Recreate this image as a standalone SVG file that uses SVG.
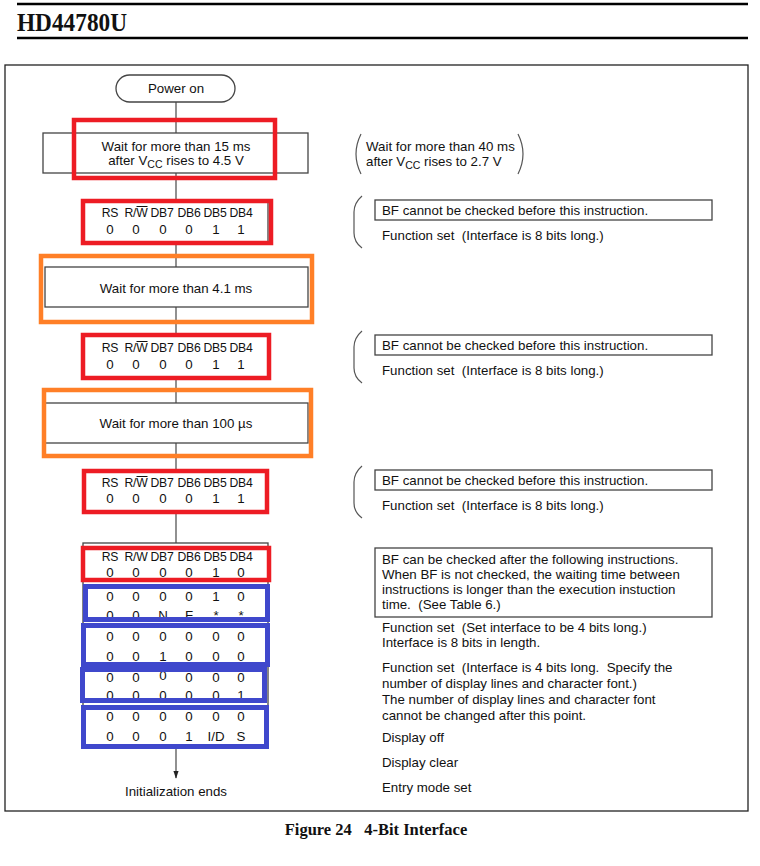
<svg xmlns="http://www.w3.org/2000/svg" width="760" height="866" viewBox="0 0 760 866">
<defs>
<style>
text{font-family:"Liberation Sans",Arial,sans-serif;font-size:13.3px;fill:#111;white-space:pre}
.c{text-anchor:middle}
.h{font-size:12.2px;letter-spacing:-0.3px}
.box{fill:#fff;stroke:#444;stroke-width:1.3}
.nb{fill:none;stroke:#444;stroke-width:1.3}
.red{fill:none;stroke:#ED1C24;stroke-width:4.5}
.org{fill:none;stroke:#FF7F27;stroke-width:4.5}
.blu{fill:none;stroke:#3F48CC;stroke-width:5}
.br{fill:none;stroke:#555;stroke-width:1.2}
.ln{stroke:#555;stroke-width:1.3;fill:none}
.ov{stroke:#111;stroke-width:1}
</style>
<marker id="arr" markerWidth="8" markerHeight="12" refX="11" refY="4" orient="auto" markerUnits="userSpaceOnUse" viewBox="0 0 12 8">
<path d="M0,0 L12,4 L0,8 Z" fill="#222"/>
</marker>
</defs>
<rect width="760" height="866" fill="#fff"/>
<g id="header">
<line x1="17" y1="4" x2="748" y2="4" stroke="#000" stroke-width="2.5"/>
<text x="17" y="31" style="font-family:'Liberation Serif','Times New Roman',serif;font-size:26px;font-weight:bold" textLength="110" lengthAdjust="spacingAndGlyphs">HD44780U</text>
<line x1="17" y1="38" x2="748" y2="38" stroke="#000" stroke-width="2.5"/>
</g>
<rect id="frame" x="5" y="65" width="743" height="746" fill="none" stroke="#222" stroke-width="1.3"/>
<g id="connectors">
<line class="ln" x1="176" y1="102" x2="176" y2="749"/>
<line class="ln" x1="176" y1="749" x2="176" y2="778" marker-end="url(#arr)"/>
</g>
<g id="power-on">
<rect x="116" y="75" width="119" height="27" rx="13.5" class="box"/>
<text x="176" y="93" class="c">Power on</text>
</g>
<g id="wait-15ms">
<rect x="43" y="133" width="265" height="40" class="box"/>
<text x="176" y="151" class="c">Wait for more than 15 ms</text>
<text x="176" y="165" class="c">after V<tspan dy="3" style="font-size:10.5px">CC</tspan><tspan dy="-3"> rises to 4.5 V</tspan></text>
<rect x="74" y="120" width="201" height="58" class="red"/>
</g>
<g id="fs1">
<rect x="84" y="201" width="184" height="41" class="box"/>
<text x="110" y="217" class="c h">RS</text><text x="136" y="217" class="c h">R/W</text><text x="162" y="217" class="c h">DB7</text><text x="189" y="217" class="c h">DB6</text><text x="215" y="217" class="c h">DB5</text><text x="241" y="217" class="c h">DB4</text>
<text x="110" y="234" class="c">0</text><text x="136" y="234" class="c">0</text><text x="163" y="234" class="c">0</text><text x="189" y="234" class="c">0</text><text x="216" y="234" class="c">1</text><text x="241" y="234" class="c">1</text>
<line x1="136.5" y1="206.5" x2="147.5" y2="206.5" class="ov"/>
<rect x="83" y="201" width="188" height="42" class="red"/>
</g>
<g id="wait-4ms">
<rect x="45" y="267" width="263" height="40" class="box"/>
<text x="176" y="293" class="c">Wait for more than 4.1 ms</text>
<rect x="41" y="256" width="271" height="66" class="org"/>
</g>
<g id="fs2">
<rect x="84" y="336" width="184" height="42" class="box"/>
<text x="110" y="352" class="c h">RS</text><text x="136" y="352" class="c h">R/W</text><text x="162" y="352" class="c h">DB7</text><text x="189" y="352" class="c h">DB6</text><text x="215" y="352" class="c h">DB5</text><text x="241" y="352" class="c h">DB4</text>
<text x="110" y="369" class="c">0</text><text x="136" y="369" class="c">0</text><text x="163" y="369" class="c">0</text><text x="189" y="369" class="c">0</text><text x="216" y="369" class="c">1</text><text x="241" y="369" class="c">1</text>
<line x1="136.5" y1="341.5" x2="147.5" y2="341.5" class="ov"/>
<rect x="83" y="335" width="186" height="43" class="red"/>
</g>
<g id="wait-100us">
<rect x="45" y="403" width="263" height="40" class="box"/>
<text x="176" y="428" class="c">Wait for more than 100 µs</text>
<rect x="44" y="390" width="267" height="66" class="org"/>
</g>
<g id="fs3">
<rect x="84" y="471" width="184" height="41" class="box"/>
<text x="110" y="487" class="c h">RS</text><text x="136" y="487" class="c h">R/W</text><text x="162" y="487" class="c h">DB7</text><text x="189" y="487" class="c h">DB6</text><text x="215" y="487" class="c h">DB5</text><text x="241" y="487" class="c h">DB4</text>
<text x="110" y="503" class="c">0</text><text x="136" y="503" class="c">0</text><text x="163" y="503" class="c">0</text><text x="189" y="503" class="c">0</text><text x="216" y="503" class="c">1</text><text x="241" y="503" class="c">1</text>
<line x1="136.5" y1="476.5" x2="147.5" y2="476.5" class="ov"/>
<rect x="84" y="471" width="183" height="41" class="red"/>
</g>
<g id="sequence">
<rect x="83" y="543" width="185" height="204" class="box"/>
<text x="110" y="561" class="c h">RS</text><text x="136" y="561" class="c h">R/W</text><text x="162" y="561" class="c h">DB7</text><text x="189" y="561" class="c h">DB6</text><text x="215" y="561" class="c h">DB5</text><text x="241" y="561" class="c h">DB4</text>
<text x="110" y="577" class="c">0</text><text x="136" y="577" class="c">0</text><text x="163" y="577" class="c">0</text><text x="189" y="577" class="c">0</text><text x="216" y="577" class="c">1</text><text x="241" y="577" class="c">0</text>
<text x="110" y="601" class="c">0</text><text x="136" y="601" class="c">0</text><text x="163" y="601" class="c">0</text><text x="189" y="601" class="c">0</text><text x="216" y="601" class="c">1</text><text x="241" y="601" class="c">0</text>
<text x="110" y="620" class="c">0</text><text x="136" y="620" class="c">0</text><text x="163" y="620" class="c">N</text><text x="189" y="620" class="c">F</text><text x="216" y="620" class="c">*</text><text x="241" y="620" class="c">*</text>
<text x="110" y="641" class="c">0</text><text x="136" y="641" class="c">0</text><text x="163" y="641" class="c">0</text><text x="189" y="641" class="c">0</text><text x="216" y="641" class="c">0</text><text x="241" y="641" class="c">0</text>
<text x="110" y="661" class="c">0</text><text x="136" y="661" class="c">0</text><text x="163" y="661" class="c">1</text><text x="189" y="661" class="c">0</text><text x="216" y="661" class="c">0</text><text x="241" y="661" class="c">0</text>
<text x="110" y="682" class="c">0</text><text x="136" y="682" class="c">0</text><text x="163" y="680" class="c">0</text><text x="189" y="682" class="c">0</text><text x="216" y="682" class="c">0</text><text x="241" y="682" class="c">0</text>
<text x="110" y="700" class="c">0</text><text x="136" y="700" class="c">0</text><text x="163" y="700" class="c">0</text><text x="189" y="700" class="c">0</text><text x="216" y="700" class="c">0</text><text x="241" y="700" class="c">1</text>
<text x="110" y="721" class="c">0</text><text x="136" y="721" class="c">0</text><text x="163" y="721" class="c">0</text><text x="189" y="721" class="c">0</text><text x="216" y="721" class="c">0</text><text x="241" y="721" class="c">0</text>
<text x="110" y="741" class="c">0</text><text x="136" y="741" class="c">0</text><text x="163" y="741" class="c">0</text><text x="189" y="741" class="c">1</text><text x="216" y="741" class="c">I/D</text><text x="241" y="741" class="c">S</text>
<rect x="83" y="548" width="186" height="32" class="red"/>
<rect x="85.5" y="586.5" width="182" height="33" class="blu"/>
<rect x="83.5" y="625.5" width="184" height="39" class="blu"/>
<rect x="82.5" y="669.5" width="182" height="31" class="blu"/>
<rect x="83.5" y="707.5" width="183" height="39" class="blu"/>
</g>
<g id="end">
<text x="176" y="796" class="c">Initialization ends</text>
</g>
<g id="note-40ms">
<path class="br" d="M361,134 Q351,154 361,174"/>
<path class="br" d="M518,134 Q528,154 518,174"/>
<text x="366" y="151">Wait for more than 40 ms</text>
<text x="366" y="166">after V<tspan dy="3" style="font-size:10.5px">CC</tspan><tspan dy="-3"> rises to 2.7 V</tspan></text>
</g>
<g id="note-fs1">
<path class="br" d="M362,196 Q354,203 354,212 L354,233 Q354,242 362,248"/>
<rect x="375" y="200" width="337" height="20" class="nb"/>
<text x="382" y="215">BF cannot be checked before this instruction.</text>
<text x="382" y="240">Function set  (Interface is 8 bits long.)</text>
</g>
<g id="note-fs2">
<path class="br" d="M362,331 Q354,338 354,347 L354,368 Q354,377 362,383"/>
<rect x="375" y="335" width="337" height="20" class="nb"/>
<text x="382" y="350">BF cannot be checked before this instruction.</text>
<text x="382" y="375">Function set  (Interface is 8 bits long.)</text>
</g>
<g id="note-fs3">
<path class="br" d="M362,466 Q354,473 354,482 L354,503 Q354,512 362,518"/>
<rect x="375" y="470" width="337" height="20" class="nb"/>
<text x="382" y="485">BF cannot be checked before this instruction.</text>
<text x="382" y="510">Function set  (Interface is 8 bits long.)</text>
</g>
<g id="note-sequence">
<rect x="375" y="548" width="337" height="69" class="nb"/>
<text x="382" y="564">BF can be checked after the following instructions.</text>
<text x="382" y="579">When BF is not checked, the waiting time between</text>
<text x="382" y="594">instructions is longer than the execution instuction</text>
<text x="382" y="609">time.  (See Table 6.)</text>
<text x="382" y="632">Function set  (Set interface to be 4 bits long.)</text>
<text x="382" y="647">Interface is 8 bits in length.</text>
<text x="382" y="672">Function set  (Interface is 4 bits long.  Specify the</text>
<text x="382" y="688">number of display lines and character font.)</text>
<text x="382" y="704">The number of display lines and character font</text>
<text x="382" y="720">cannot be changed after this point.</text>
<text x="382" y="742">Display off</text>
<text x="382" y="767">Display clear</text>
<text x="382" y="792">Entry mode set</text>
</g>
<g id="caption">
<text x="376" y="835" class="c" style="font-family:'Liberation Serif','Times New Roman',serif;font-size:16.5px;font-weight:bold">Figure 24   4-Bit Interface</text>
</g>
</svg>
